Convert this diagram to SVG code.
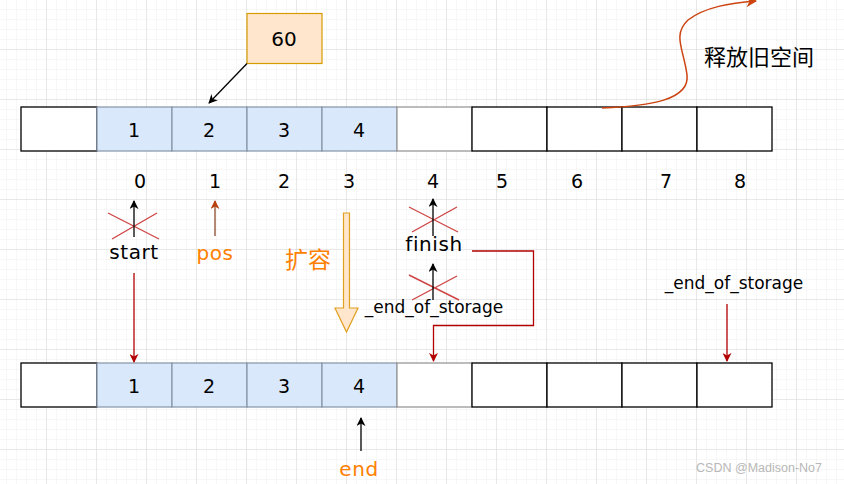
<svg xmlns="http://www.w3.org/2000/svg" width="844" height="484" viewBox="0 0 844 484">
<style>
.txt{font-family:"DejaVu Sans","Liberation Sans",sans-serif;text-anchor:middle;dominant-baseline:central}
.num{font-size:19px;fill:#000}
.lbl{font-size:20px;fill:#000;letter-spacing:0.6px}
.org{fill:#ff8000}
.cell{fill:#fff;stroke:#000;stroke-width:1.3}
.cellg{fill:#fff;stroke:#999;stroke-width:1.3}
.blue{fill:#dae8fc;stroke:#8593a6;stroke-width:1.2}
.x{stroke:#d04545;stroke-width:1.4;fill:none}
.blk{stroke:#000;stroke-width:1.3;fill:none}
.red{stroke:#b20000;stroke-width:1.3;fill:none}
.cjk{font-family:"Noto Sans CJK SC",sans-serif}
</style>
<defs>
<pattern id="minor" width="10" height="10" patternUnits="userSpaceOnUse" x="7" y="0">
<path d="M10 0V10M0 10H10" stroke="#efefef" stroke-width="1" fill="none"/>
</pattern>
<pattern id="major" width="50" height="50" patternUnits="userSpaceOnUse" x="47" y="0">
<path d="M50 0V50M0 50H50" stroke="#d9d9d9" stroke-width="1" fill="none"/>
</pattern>
<marker id="aBlk" viewBox="0 0 10 10" refX="9" refY="5" markerWidth="9" markerHeight="9" orient="auto" markerUnits="userSpaceOnUse"><path d="M0 0L10 5L0 10L3 5Z" fill="#000"/></marker>
<marker id="aRed" viewBox="0 0 10 10" refX="9" refY="5" markerWidth="9" markerHeight="9" orient="auto" markerUnits="userSpaceOnUse"><path d="M0 0L10 5L0 10L3 5Z" fill="#b20000"/></marker>
<marker id="aBrn" viewBox="0 0 10 10" refX="9" refY="5" markerWidth="9" markerHeight="9" orient="auto" markerUnits="userSpaceOnUse"><path d="M0 0L10 5L0 10L3 5Z" fill="#b8400c"/></marker>
<marker id="aOr" viewBox="0 0 10 10" refX="9" refY="5" markerWidth="11" markerHeight="11" orient="auto" markerUnits="userSpaceOnUse"><path d="M0 0L10 5L0 10L3 5Z" fill="#cc4410"/></marker>
</defs>
<rect width="844" height="484" fill="#fff"/>
<rect width="844" height="484" fill="url(#minor)"/>
<rect width="844" height="484" fill="url(#major)"/>

<g id="top-array">
<rect class="cell" x="21" y="107" width="76" height="44"/>
<rect class="blue" x="97" y="107" width="75" height="44"/>
<rect class="blue" x="172" y="107" width="75" height="44"/>
<rect class="blue" x="247" y="107" width="75" height="44"/>
<rect class="blue" x="322" y="107" width="75" height="44"/>
<rect class="cellg" x="397" y="107" width="75" height="44"/>
<rect class="cell" x="472" y="107" width="75" height="44"/>
<rect class="cell" x="547" y="107" width="75" height="44"/>
<rect class="cell" x="622" y="107" width="75" height="44"/>
<rect class="cell" x="697" y="107" width="75" height="44"/>
<text class="txt num" x="134" y="130">1</text>
<text class="txt num" x="209" y="130">2</text>
<text class="txt num" x="284" y="130">3</text>
<text class="txt num" x="359" y="130">4</text>
</g>

<g id="bottom-array">
<rect class="cell" x="21" y="363" width="76" height="44"/>
<rect class="blue" x="97" y="363" width="75" height="44"/>
<rect class="blue" x="172" y="363" width="75" height="44"/>
<rect class="blue" x="247" y="363" width="75" height="44"/>
<rect class="blue" x="322" y="363" width="75" height="44"/>
<rect class="cellg" x="397" y="363" width="75" height="44"/>
<rect class="cell" x="472" y="363" width="75" height="44"/>
<rect class="cell" x="547" y="363" width="75" height="44"/>
<rect class="cell" x="622" y="363" width="75" height="44"/>
<rect class="cell" x="697" y="363" width="75" height="44"/>
<text class="txt num" x="134" y="386">1</text>
<text class="txt num" x="209" y="386">2</text>
<text class="txt num" x="284" y="386">3</text>
<text class="txt num" x="359" y="386">4</text>
</g>

<g id="node-60">
<rect x="247" y="13.5" width="75" height="50" fill="#ffe6cc" stroke="#d79b00" stroke-width="1.2"/>
<text class="txt" x="284" y="39" font-size="20">60</text>
</g>

<g id="indices">
<text class="txt num" x="140" y="181">0</text>
<text class="txt num" x="215" y="181">1</text>
<text class="txt num" x="284" y="181">2</text>
<text class="txt num" x="349" y="181">3</text>
<text class="txt num" x="433" y="181">4</text>
<text class="txt num" x="502" y="181">5</text>
<text class="txt num" x="577" y="181">6</text>
<text class="txt num" x="666" y="181">7</text>
<text class="txt num" x="740" y="181">8</text>
</g>

<g id="start">
<path class="x" d="M108 213L159 239M112 239L157 213"/>
<text class="txt lbl" x="134" y="252">start</text>
</g>
<g id="pos"><text class="txt lbl org" x="215" y="253">pos</text></g>
<g id="expand">
<path d="M343.5 213H349.5V308H358L346.5 332L335 308H343.5Z" fill="#ffe6cc" stroke="#e0a020" stroke-width="1.2"/>
<text class="txt cjk org" x="308" y="258" font-size="23">扩容</text>
</g>
<g id="finish">
<path class="x" d="M409 207L458 232M412 232L457 207"/>
<text class="txt lbl" x="434" y="244" font-size="19">finish</text>
</g>
<g id="old-end-of-storage">
<path class="x" d="M409 275L459 300M412 300L457 276"/>
<text class="txt" x="434" y="307" font-size="17">_end_of_storage</text>
</g>
<g id="new-end-of-storage"><text class="txt" x="734" y="283" font-size="17">_end_of_storage</text></g>
<g id="end"><text class="txt lbl org" x="359" y="469">end</text></g>
<g id="release"><text class="txt cjk" x="759" y="55" font-size="22">释放旧空间</text></g>
<g id="watermark"><text x="822" y="468" font-family="Liberation Sans, sans-serif" font-size="12.5" fill="#b8b8b8" text-anchor="end" dominant-baseline="central">CSDN @Madison-No7</text></g>

<g id="connectors">
<path class="blk" d="M247 63.5L209 103" marker-end="url(#aBlk)"/>
<path class="blk" d="M134 237V201" marker-end="url(#aBlk)"/>
<path d="M215 236V201" stroke="#8a4a2a" stroke-width="1.3" fill="none" marker-end="url(#aBrn)"/>
<path class="blk" d="M433 236V199" marker-end="url(#aBlk)"/>
<path class="blk" d="M433 300V264" marker-end="url(#aBlk)"/>
<path class="red" d="M134 273V362" marker-end="url(#aRed)"/>
<path class="red" stroke="#c83a3a" d="M472 251H533.5V325.5H433.5V361" marker-end="url(#aRed)"/>
<path class="red" d="M727 304V361" marker-end="url(#aRed)"/>
<path class="blk" d="M361 451V418" marker-end="url(#aBlk)"/>
<path d="M602 108C650 106 690 100 687 75C684 50 672 35 688 20C705 7 730 3 756 1" stroke="#cc4410" stroke-width="1.5" fill="none" marker-end="url(#aOr)"/>
</g>
</svg>
